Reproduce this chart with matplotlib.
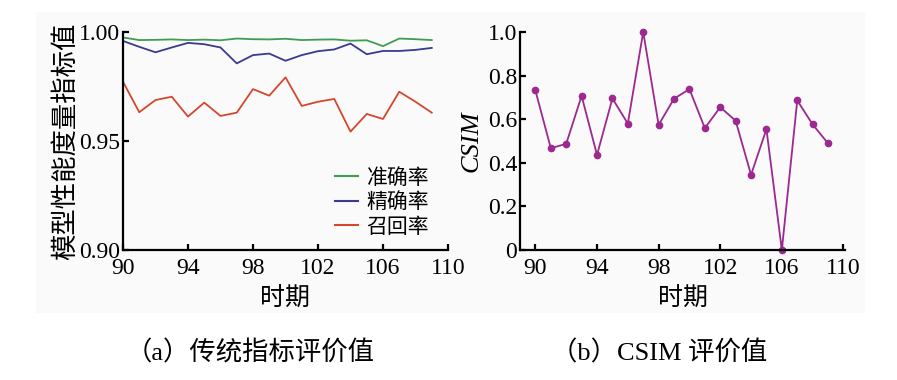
import numpy as np
import matplotlib.pyplot as plt
import matplotlib.patches as patches
from matplotlib.lines import Line2D

plt.rcParams['font.family'] = ['Liberation Serif', 'Noto Sans CJK SC']
plt.rcParams['mathtext.fontset'] = 'stix'

periods = list(range(90, 110))
accuracy = [0.9975, 0.9963, 0.9964, 0.9966, 0.9963, 0.9965, 0.9962, 0.9970, 0.9967, 0.9966,
            0.9969, 0.9963, 0.9965, 0.9966, 0.9960, 0.9962, 0.9935, 0.9970, 0.9967, 0.9963]
precision = [0.9959, 0.9932, 0.9907, 0.9929, 0.9950, 0.9944, 0.9929, 0.9856, 0.9894, 0.9901,
             0.9868, 0.9894, 0.9912, 0.9920, 0.9947, 0.9898, 0.9913, 0.9913, 0.9918, 0.9927]
recall = [0.9772, 0.9632, 0.9688, 0.9703, 0.9612, 0.9676, 0.9615, 0.9630, 0.9738, 0.9708,
          0.9792, 0.9661, 0.9680, 0.9693, 0.9543, 0.9624, 0.9601, 0.9726, 0.9680, 0.9630]
csim = [0.732, 0.467, 0.487, 0.707, 0.436, 0.695, 0.580, 1.0, 0.574, 0.694,
        0.738, 0.559, 0.655, 0.593, 0.345, 0.554, 0.0, 0.686, 0.576, 0.489]

series_labels = ['准确率', '精确率', '召回率']
series_colors = ['#3f9d52', '#3b3a8e', '#d4472f']
csim_color = '#9c2890'
x_ticks = [90, 94, 98, 102, 106, 110]
cjk = ['Noto Sans CJK SC', 'DejaVu Sans']
serif_cjk = ['Liberation Serif', 'Noto Sans CJK SC']

W, H = 897, 380
fig = plt.figure(figsize=(W / 100, H / 100), dpi=100)
fig.patches.append(patches.Rectangle((36 / W, 1 - 313 / H), (865 - 36) / W, (313 - 12) / H,
                                     transform=fig.transFigure, facecolor='#fafafa', edgecolor='none', zorder=-10))


def axes_px(left, top, right, bottom):
    return fig.add_axes([left / W, 1 - bottom / H, (right - left) / W, (bottom - top) / H])


def style_axes(ax):
    ax.patch.set_alpha(0)
    for side in ['top', 'right']:
        ax.spines[side].set_visible(False)
    for side in ['left', 'bottom']:
        ax.spines[side].set_linewidth(1.6)
    ax.tick_params(direction='in', length=4, width=1.6, labelsize=17)
    ax.tick_params(axis='x', pad=6)
    ax.tick_params(axis='y', pad=2)


ax1 = axes_px(123, 32, 448, 250)
for values, label, color in zip([accuracy, precision, recall], series_labels, series_colors):
    ax1.plot(periods, values, color=color, linewidth=1.3, label=label)
ax1.set_xlim(90, 110)
ax1.set_ylim(0.90, 1.00)
ax1.set_xticks(x_ticks)
ax1.set_yticks([0.90, 0.95, 1.00])
ax1.set_yticklabels(['0.90', '0.95', '1.00'])
style_axes(ax1)
ax1.set_xlabel('时期', family=cjk, fontsize=18, labelpad=5)
ax1.set_ylabel('模型性能度量指标值', family=cjk, fontsize=19, labelpad=0)
handles = [Line2D([], [], color=c, linewidth=1.5) for c in series_colors]
ax1.legend(handles, series_labels, loc='lower right', bbox_to_anchor=(1.0, -0.03), frameon=False,
           prop={'family': cjk, 'size': 15}, handlelength=1.1, handletextpad=0.4, labelspacing=0.12)

ax2 = axes_px(520, 32, 845, 250)
ax2.plot(periods, csim, color=csim_color, linewidth=1.3, marker='o', markersize=4.5, clip_on=False)
ax2.set_xlim(89, 110.1)
ax2.set_ylim(0, 1.0)
ax2.set_xticks(x_ticks)
ax2.set_yticks([0, 0.2, 0.4, 0.6, 0.8, 1.0])
ax2.set_yticklabels(['0', '0.2', '0.4', '0.6', '0.8', '1.0'])
style_axes(ax2)
ax2.set_xlabel('时期', family=cjk, fontsize=18, labelpad=5)
ax2.set_ylabel('CSIM', fontsize=19, style='italic', labelpad=4)

fig.text(250 / W, 1 - 353 / H, '（a）传统指标评价值', family=serif_cjk, fontsize=19, ha='center', va='center')
fig.text(659 / W, 1 - 353 / H, '（b）CSIM 评价值', family=serif_cjk, fontsize=19, ha='center', va='center')

fig.savefig('out.png', dpi=100, facecolor='white')
